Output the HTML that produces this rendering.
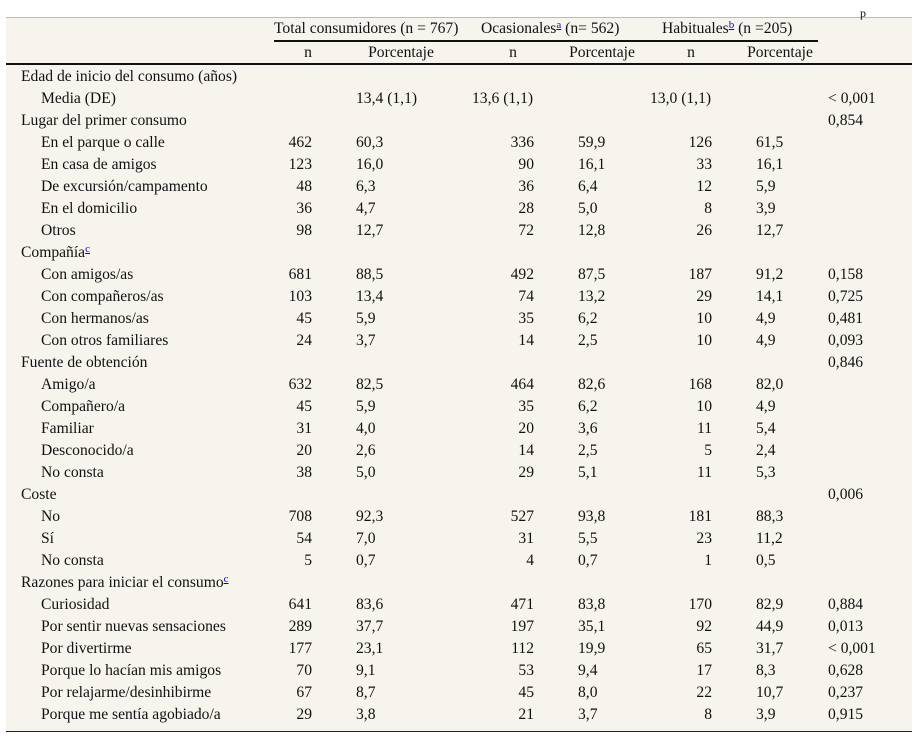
<!DOCTYPE html>
<html><head><meta charset="utf-8"><style>
body{margin:0;width:922px;height:743px;background:#fff;font-family:"Liberation Serif",serif;font-size:15.6px;color:#111;position:relative;overflow:hidden}
#tbl{position:absolute;left:6px;top:17px;width:906px;height:713px;background:#f7f4ee;border-top:1px solid #bbb;border-bottom:1.5px solid #222}
.t{position:absolute;white-space:nowrap;line-height:16px}
.r{text-align:right}
.c{text-align:center}
.sp{color:#00e;font-size:11px;position:relative;top:-5px;line-height:0;text-decoration:underline}
</style></head><body>
<div id="tbl"></div>
<div class="t" style="left:860px;top:5px;font-size:12px">p</div>
<div class="t" style="left:274px;top:21px">Total consumidores (n = 767)</div>
<div class="t" style="left:481px;top:21px">Ocasionales<span class="sp">a</span> (n= 562)</div>
<div class="t" style="left:662px;top:21px">Habituales<span class="sp">b</span> (n =205)</div>
<div style="position:absolute;left:274px;top:40px;width:544px;height:2px;background:#111"></div>
<div style="position:absolute;left:6px;top:63px;width:906px;height:2px;background:#111"></div>
<div id="rows"></div>
<script>
const subHeads=[["n",308],["Porcentaje",401],["n",513],["Porcentaje",602],["n",691],["Porcentaje",780]];
const rows=[
["h","Edad de inicio del consumo (años)"],
["m","Media (DE)","13,4 (1,1)","13,6 (1,1)","13,0 (1,1)","< 0,001"],
["h","Lugar del primer consumo","0,854"],
["d","En el parque o calle","462","60,3","336","59,9","126","61,5",""],
["d","En casa de amigos","123","16,0","90","16,1","33","16,1",""],
["d","De excursión/campamento","48","6,3","36","6,4","12","5,9",""],
["d","En el domicilio","36","4,7","28","5,0","8","3,9",""],
["d","Otros","98","12,7","72","12,8","26","12,7",""],
["h","Compañía^c"],
["d","Con amigos/as","681","88,5","492","87,5","187","91,2","0,158"],
["d","Con compañeros/as","103","13,4","74","13,2","29","14,1","0,725"],
["d","Con hermanos/as","45","5,9","35","6,2","10","4,9","0,481"],
["d","Con otros familiares","24","3,7","14","2,5","10","4,9","0,093"],
["h","Fuente de obtención","0,846"],
["d","Amigo/a","632","82,5","464","82,6","168","82,0",""],
["d","Compañero/a","45","5,9","35","6,2","10","4,9",""],
["d","Familiar","31","4,0","20","3,6","11","5,4",""],
["d","Desconocido/a","20","2,6","14","2,5","5","2,4",""],
["d","No consta","38","5,0","29","5,1","11","5,3",""],
["h","Coste","0,006"],
["d","No","708","92,3","527","93,8","181","88,3",""],
["d","Sí","54","7,0","31","5,5","23","11,2",""],
["d","No consta","5","0,7","4","0,7","1","0,5",""],
["h","Razones para iniciar el consumo^c"],
["d","Curiosidad","641","83,6","471","83,8","170","82,9","0,884"],
["d","Por sentir nuevas sensaciones","289","37,7","197","35,1","92","44,9","0,013"],
["d","Por divertirme","177","23,1","112","19,9","65","31,7","< 0,001"],
["d","Porque lo hacían mis amigos","70","9,1","53","9,4","17","8,3","0,628"],
["d","Por relajarme/desinhibirme","67","8,7","45","8,0","22","10,7","0,237"],
["d","Porque me sentía agobiado/a","29","3,8","21","3,7","8","3,9","0,915"]
];
const host=document.getElementById('rows');
function cell(txt,x,y,align,name){
  const d=document.createElement('div');
  d.className='t'+(align?' '+align:'');
  
  
  if(txt.includes('^')){const p=txt.split('^');d.innerHTML=p[0]+'<span class="sp">'+p[1]+'</span>';}
  else d.textContent=txt;
  if(align==='r'){d.style.right=(922-x)+'px';}
  else if(align==='c'){d.style.left=(x-60)+'px';d.style.width='120px';}
  else d.style.left=x+'px';
  d.style.top=y+'px';
  host.appendChild(d);
}
subHeads.forEach(s=>cell(s[0],s[1],45,'c','subheader-'+s[0].toLowerCase()));
rows.forEach((r,i)=>{
  const y=69+i*22;
  if(r[0]==='h'){cell(r[1],21,y,'','section-label');if(r[2])cell(r[2],828,y,'','p-value');}
  else if(r[0]==='m'){cell(r[1],41,y,'','row-label');cell(r[2],356,y,'','total-mean');cell(r[3],472,y,'','ocasional-mean');cell(r[4],650,y,'','habitual-mean');cell(r[5],828,y,'','p-value');}
  else{
    cell(r[1],41,y,'','row-label');
    cell(r[2],312,y,'r','total-n');cell(r[3],356,y,'','total-pct');
    cell(r[4],534,y,'r','ocasional-n');cell(r[5],578,y,'','ocasional-pct');
    cell(r[6],712,y,'r','habitual-n');cell(r[7],756,y,'','habitual-pct');
    if(r[8])cell(r[8],828,y,'','p-value');
  }
});
</script>
</body></html>
